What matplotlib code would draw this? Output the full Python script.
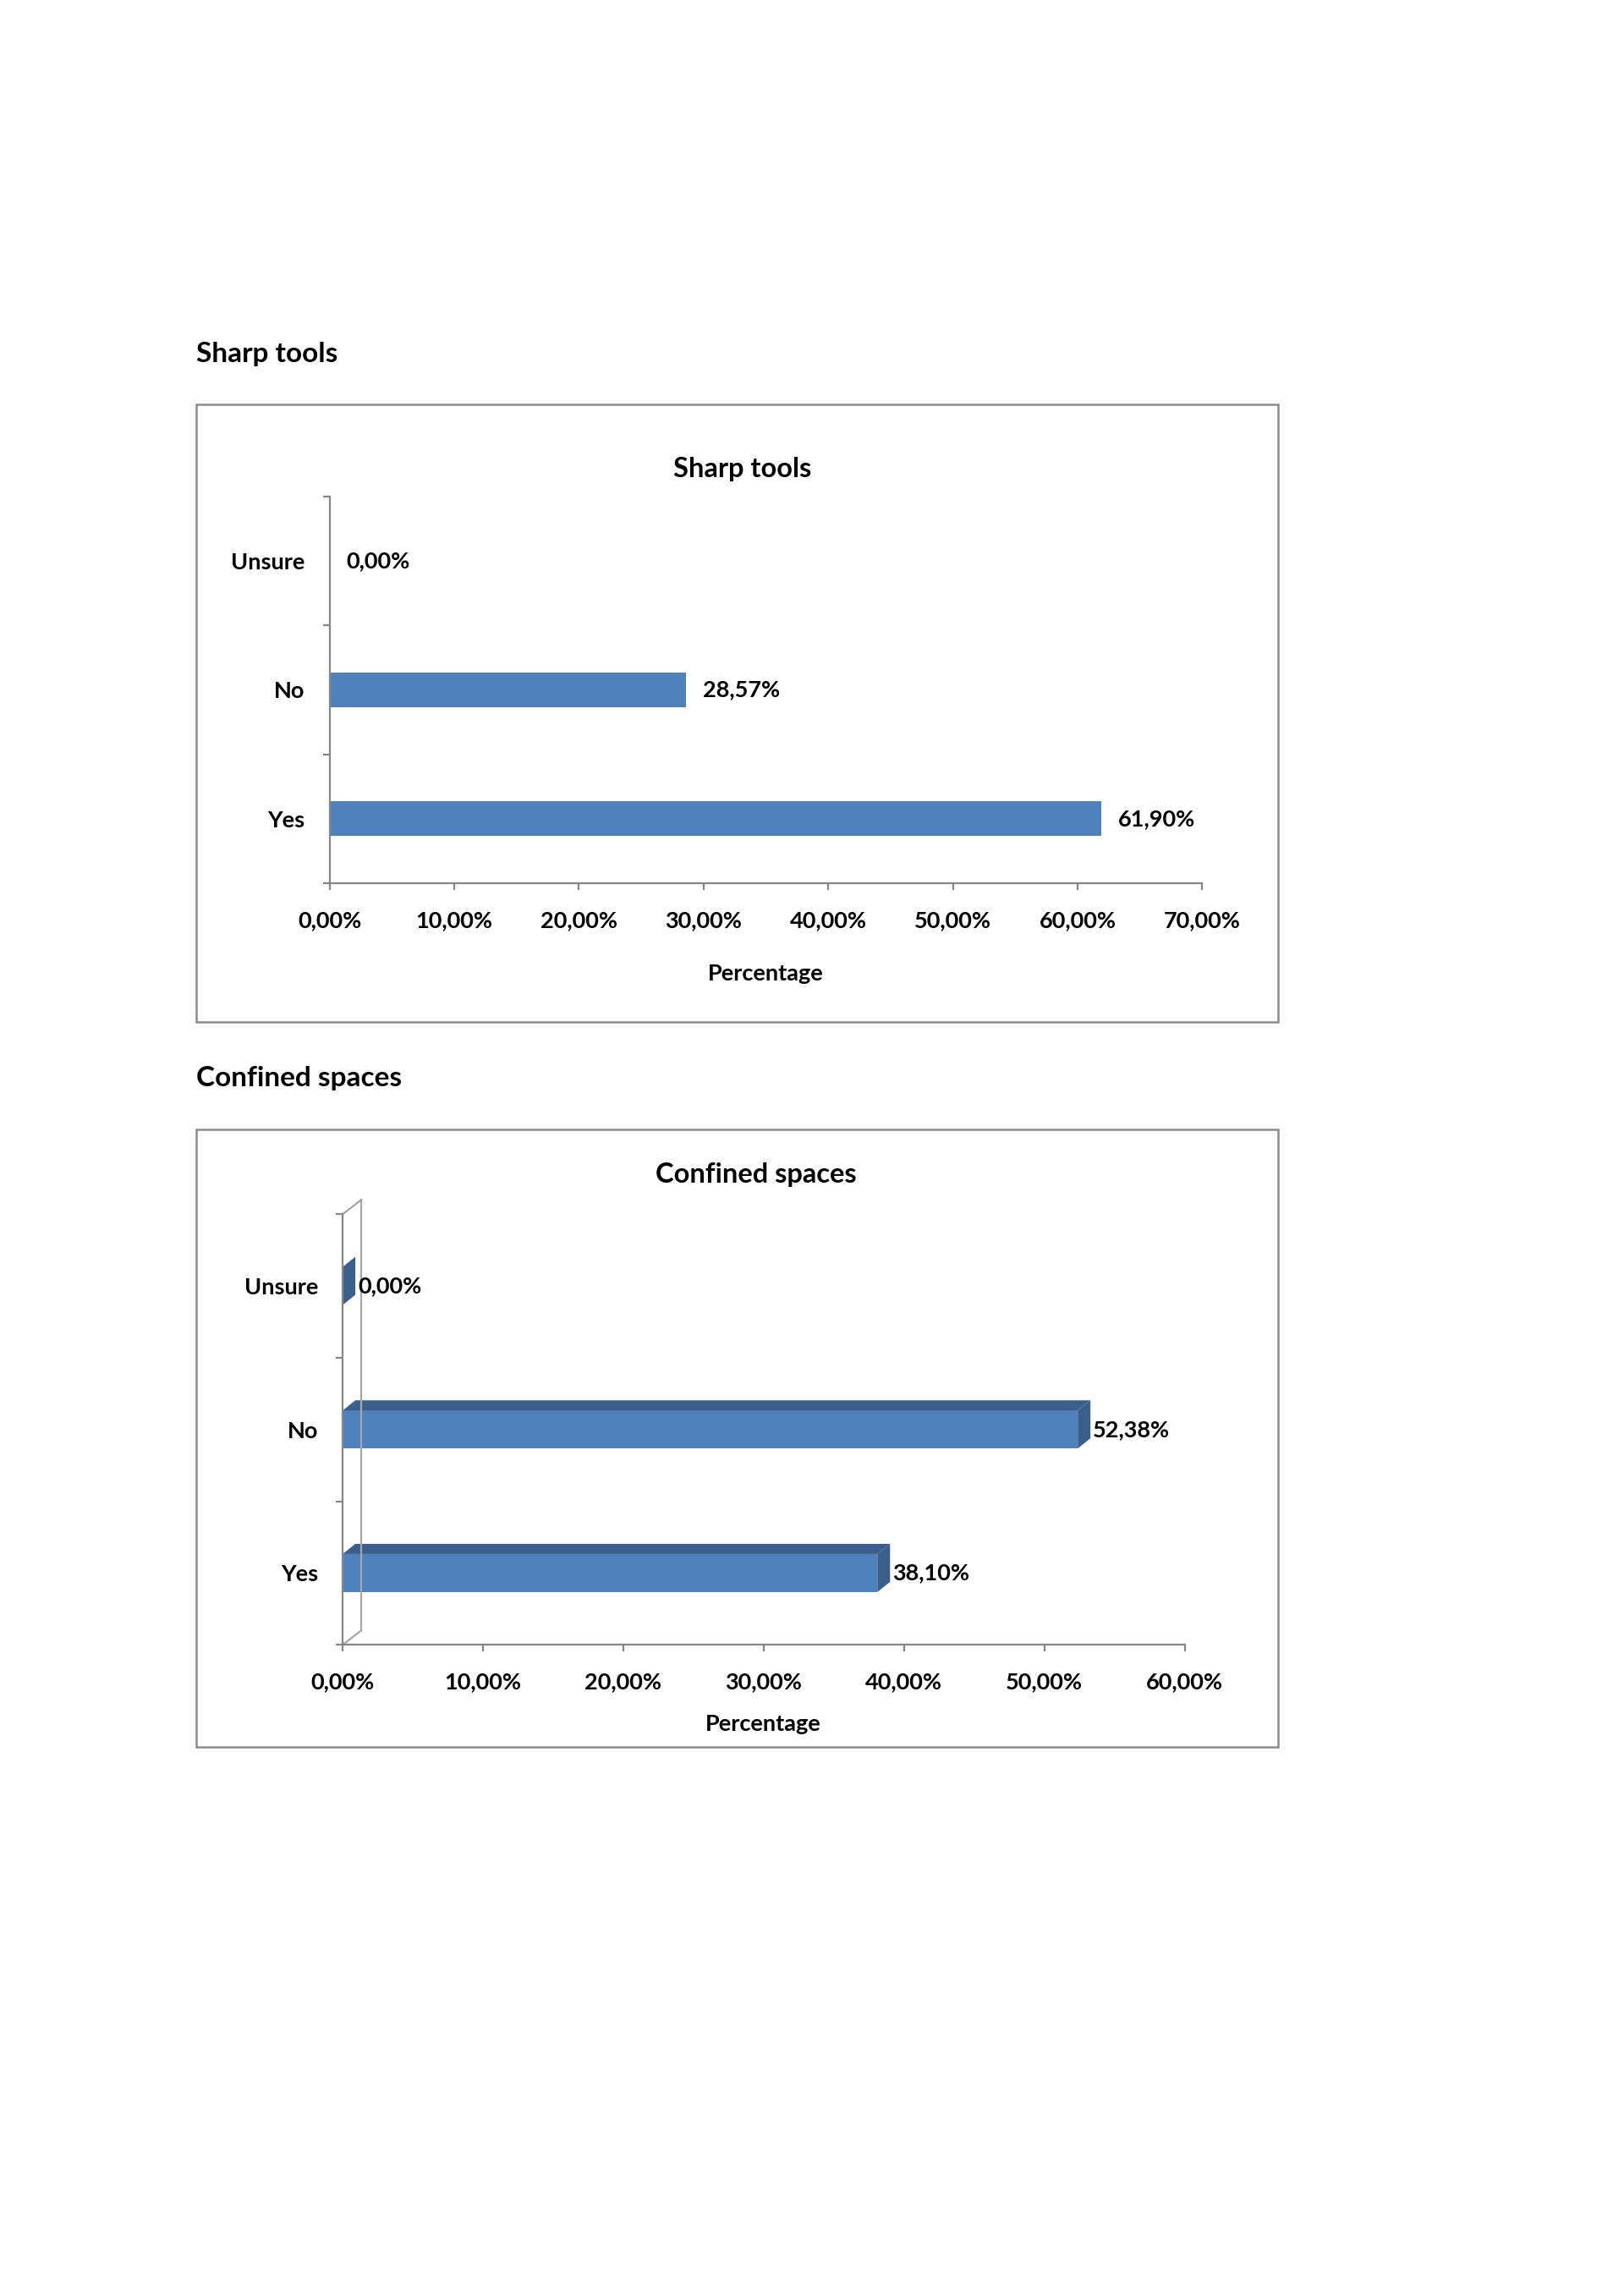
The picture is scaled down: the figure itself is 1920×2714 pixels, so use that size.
import matplotlib
matplotlib.use("Agg")
import matplotlib.pyplot as plt
from matplotlib.patches import Rectangle, Polygon
from matplotlib.lines import Line2D

W, H = 1920, 2714
DPI = 100
S = W / 1109  # layout below is measured on a 1109 px wide preview

categories = ["Yes", "No", "Unsure"]
sharp_values = [61.90, 28.57, 0.00]
sharp_labels = ["61,90%", "28,57%", "0,00%"]
sharp_ticks = [0, 10, 20, 30, 40, 50, 60, 70]
confined_values = [38.10, 52.38, 0.00]
confined_labels = ["38,10%", "52,38%", "0,00%"]
confined_ticks = [0, 10, 20, 30, 40, 50, 60]

FONT = ["Lato", "DejaVu Sans"]
BAR = "#4F81BD"
BAR_DARK = "#3A5F8C"
AXIS = "#868686"
BOX = "#8C8C8C"
LABEL_SIZE = 19.5

plt.rcParams["font.family"] = FONT
plt.rcParams["font.weight"] = "bold"

fig = plt.figure(figsize=(W / DPI, H / DPI), dpi=DPI)


def px_axes(x0, y0, x1, y1):
    x0, y0, x1, y1 = (v * S for v in (x0, y0, x1, y1))
    return fig.add_axes([x0 / W, 1 - y1 / H, (x1 - x0) / W, (y1 - y0) / H])


def px_box(x0, y0, x1, y1):
    x0, y0, x1, y1 = (v * S for v in (x0, y0, x1, y1))
    fig.patches.append(Rectangle((x0 / W, 1 - y1 / H), (x1 - x0) / W, (y1 - y0) / H,
                                 transform=fig.transFigure, fill=False,
                                 edgecolor=BOX, linewidth=1.8))


def px_text(x, y, s, **kw):
    fig.text(x * S / W, 1 - y * S / H, s, **kw)


def pct(v):
    return f"{v:.2f}%".replace(".", ",")


def style_axes(ax, ticks):
    for side in ("top", "right"):
        ax.spines[side].set_visible(False)
    for side in ("left", "bottom"):
        ax.spines[side].set_color(AXIS)
        ax.spines[side].set_linewidth(1.6)
    ax.set_xlim(ticks[0], ticks[-1])
    ax.set_ylim(-0.5, len(categories) - 0.5)
    ax.set_xticks(ticks)
    ax.set_xticklabels([pct(t) for t in ticks], fontsize=LABEL_SIZE, fontweight="bold")
    ax.set_yticks([i - 0.5 for i in range(len(categories) + 1)])
    ax.set_yticklabels([])
    ax.set_yticks(range(len(categories)), minor=True)
    ax.set_yticklabels(categories, minor=True, fontsize=LABEL_SIZE, fontweight="bold")
    ax.tick_params(axis="both", which="major", color=AXIS, width=1.6, length=6)
    ax.tick_params(axis="x", pad=17)
    ax.tick_params(axis="y", which="minor", length=0, pad=21)
    ax.patch.set_alpha(0)


# ---- Sharp tools (flat bars) ----
px_text(134, 242, "Sharp tools", fontsize=24, fontweight="bold", va="center", ha="left")
px_box(134, 276, 873, 698)
px_text(507, 320, "Sharp tools", fontsize=23.5, fontweight="bold", va="center", ha="center")

ax1 = px_axes(225, 339, 821, 603)
style_axes(ax1, sharp_ticks)
ax1.barh(range(len(categories)), sharp_values, height=0.27, color=BAR)
for i, (v, lab) in enumerate(zip(sharp_values, sharp_labels)):
    ax1.annotate(lab, (v, i), xytext=(20, 0), textcoords="offset pixels",
                 va="center", ha="left", fontsize=LABEL_SIZE, fontweight="bold")
px_text(523, 665, "Percentage", fontsize=LABEL_SIZE, fontweight="bold", va="center", ha="center")

# ---- Confined spaces (3D-looking bars) ----
px_text(134, 736, "Confined spaces", fontsize=24, fontweight="bold", va="center", ha="left")
px_box(134, 771, 873, 1193)
px_text(516, 802, "Confined spaces", fontsize=23.5, fontweight="bold", va="center", ha="center")

ax2_box = (234, 829, 809, 1123)
ax2 = px_axes(*ax2_box)
style_axes(ax2, confined_ticks)

x_per_px = (confined_ticks[-1] - confined_ticks[0]) / ((ax2_box[2] - ax2_box[0]) * S)
y_per_px = len(categories) / ((ax2_box[3] - ax2_box[1]) * S)

# back wall outline
wdx, wdy = 22 * x_per_px, 17 * y_per_px
ylo, yhi = -0.5, len(categories) - 0.5
for xs, ys in [([wdx, wdx], [ylo + wdy, yhi + wdy]),
               ([0, wdx], [yhi, yhi + wdy]),
               ([0, wdx], [ylo, ylo + wdy])]:
    ax2.add_line(Line2D(xs, ys, color="#A6A6A6", linewidth=1.6, clip_on=False))

bh = 0.265
bdx, bdy = 15 * x_per_px, 12 * y_per_px
for i, v in enumerate(confined_values):
    lo, hi = i - bh / 2, i + bh / 2
    if v > 0:
        ax2.barh(i, v, height=bh, color=BAR)
        ax2.add_patch(Polygon([(0, hi), (v, hi), (v + bdx, hi + bdy), (bdx, hi + bdy)],
                              closed=True, facecolor=BAR_DARK, edgecolor="none", clip_on=False))
    ax2.add_patch(Polygon([(v, lo), (v + bdx, lo + bdy), (v + bdx, hi + bdy), (v, hi)],
                          closed=True, facecolor=BAR_DARK, edgecolor="none", clip_on=False))
for i, (v, lab) in enumerate(zip(confined_values, confined_labels)):
    ax2.annotate(lab, (v + bdx, i), xytext=(3, 0), textcoords="offset pixels",
                 va="center", ha="left", fontsize=LABEL_SIZE, fontweight="bold")
px_text(521, 1177, "Percentage", fontsize=LABEL_SIZE, fontweight="bold", va="center", ha="center")

fig.savefig("out.png", dpi=DPI)
